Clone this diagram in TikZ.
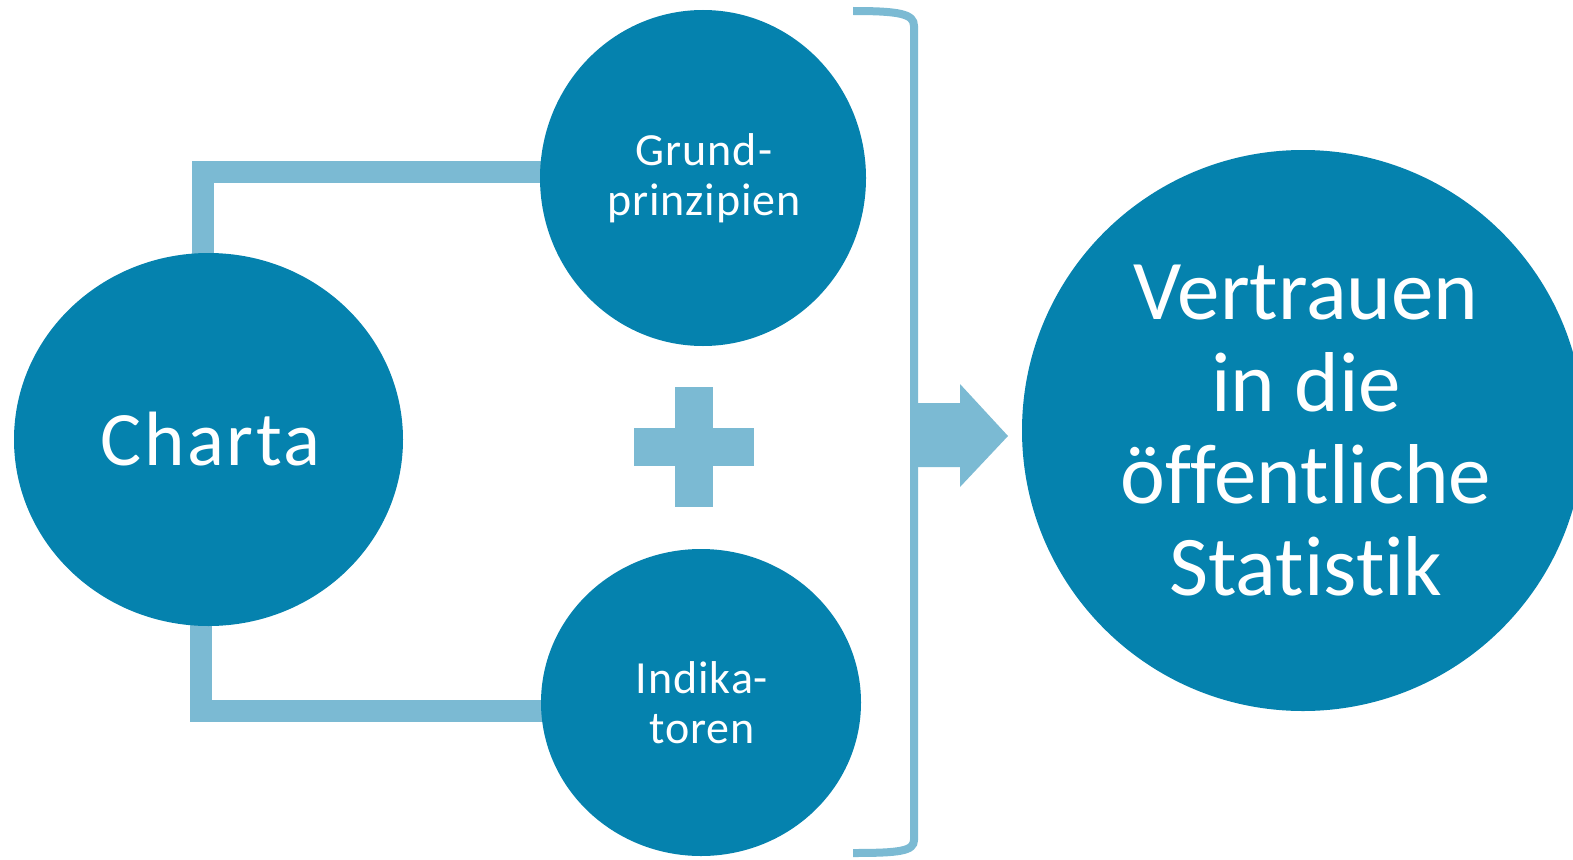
\documentclass[tikz,border=0pt]{standalone}
\usepackage{fontspec}
\setmainfont{Carlito}[Ligatures={NoCommon}]
\usetikzlibrary{shapes.geometric,backgrounds}
\definecolor{dark}{HTML}{0582AE}
\definecolor{light}{HTML}{7BBAD3}
\begin{document}
\begin{tikzpicture}[x=1pt,y=-1pt,
  bubble/.style={ellipse,fill=dark,text=white,inner sep=0pt,align=center},
  conn/.style={draw=light,line width=22pt},
  bracket/.style={draw=light,line width=8pt},
  lightfill/.style={fill=light}]
\clip (0,0) rectangle (1573,859);
\node[bubble,minimum width=389pt,minimum height=373pt,font=\fontsize{77}{84}\selectfont\addfontfeatures{LetterSpace=3.5}] (charta) at (208.5,439.5) {\hspace*{4pt}Charta};
\node[bubble,minimum width=326pt,minimum height=336pt,font=\fontsize{46}{50}\selectfont\addfontfeatures{LetterSpace=2}] (grund) at (703,178) {\hspace*{2pt}Grund-\\\hspace*{2pt}prinzipien};
\node[bubble,minimum width=320pt,minimum height=307pt,font=\fontsize{46}{50}\selectfont\addfontfeatures{LetterSpace=2}] (indik) at (701,702.5) {\hspace*{2pt}Indika-\\\hspace*{2pt}toren};
\node[bubble,minimum width=562pt,minimum height=561pt,font=\fontsize{85}{92}\selectfont] (trust) at (1303,430.5) {\hspace*{6pt}Vertrauen\\\hspace*{6pt}in die\\\hspace*{6pt}öffentliche\\\hspace*{6pt}Statistik};
\begin{scope}[on background layer]
  \draw[conn] ([xshift=-5.5pt,yshift=-10pt]charta.north) |- ([xshift=4pt,yshift=6.5pt]grund.west);
  \draw[conn] ([xshift=-8pt,yshift=10pt]charta.south) |- ([xshift=4pt,yshift=-8pt]indik.west);
\end{scope}
% plus sign
\fill[lightfill] (634,428) rectangle (754,466);
\fill[lightfill] (675,387) rectangle (713,507);
% bracket
\draw[bracket] (853,11) .. controls (900,11) and (914,14) .. (914,26) -- (914,840) .. controls (914,851) and (900,853) .. (853,853);
% arrow
\fill[lightfill] (911,403) -- (960,403) -- (960,384) -- (1008,436) -- (960,487) -- (960,467) -- (911,467) -- cycle;
\end{tikzpicture}
\end{document}
